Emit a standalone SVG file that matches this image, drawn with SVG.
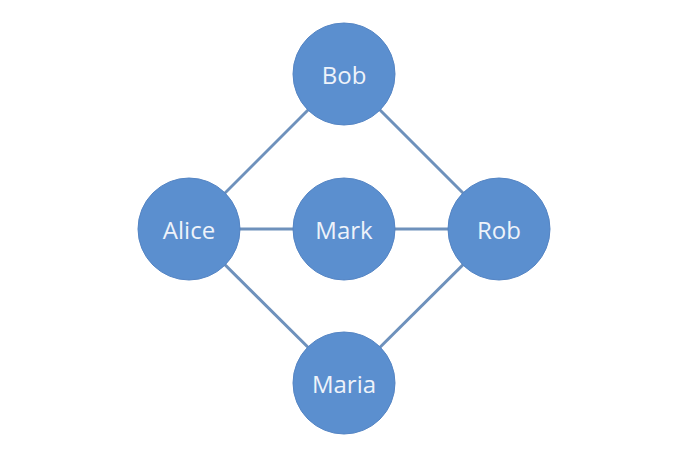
<svg xmlns="http://www.w3.org/2000/svg" width="698" height="460" viewBox="0 0 698 460">
<style>
.node circle{fill:#5B8FCF;stroke:#5585C4;stroke-width:1}
.node text{font-family:"Open Sans","Noto Sans",sans-serif;font-size:24px;fill:#EEF3FA;text-anchor:middle;dominant-baseline:central}
.edges line{stroke:#6E91BC;stroke-width:3}
</style>
<rect width="698" height="460" fill="#FFFFFF"/>
<g class="edges" id="connectors">
<line x1="189" y1="229" x2="344" y2="74"/>
<line x1="344" y1="74" x2="499" y2="229"/>
<line x1="189" y1="229" x2="499" y2="229"/>
<line x1="189" y1="229" x2="344" y2="383"/>
<line x1="344" y1="383" x2="499" y2="229"/>
</g>
<g class="node" id="bob"><circle cx="344" cy="74" r="51"/><text x="344" y="74">Bob</text></g>
<g class="node" id="alice"><circle cx="189" cy="229" r="51"/><text x="189" y="229">Alice</text></g>
<g class="node" id="mark"><circle cx="344" cy="229" r="51"/><text x="344" y="229">Mark</text></g>
<g class="node" id="rob"><circle cx="499" cy="229" r="51"/><text x="499" y="229">Rob</text></g>
<g class="node" id="maria"><circle cx="344" cy="383" r="51"/><text x="344" y="383">Maria</text></g>
</svg>
